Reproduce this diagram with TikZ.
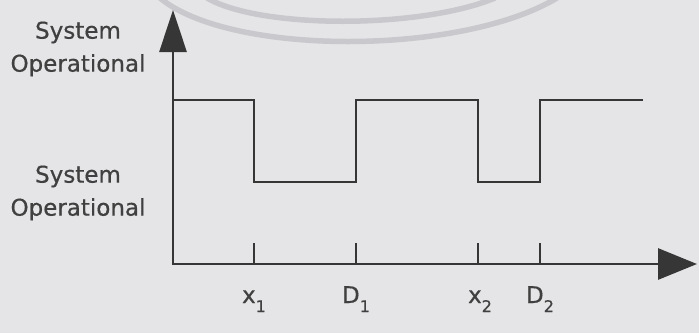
\documentclass[tikz,border=0pt]{standalone}
\usepackage{fontspec}
\setmainfont{DejaVu Sans}[FakeBold=0.6]
\usetikzlibrary{arrows.meta}
\definecolor{bg}{HTML}{E5E5E7}
\definecolor{ln}{HTML}{363636}
\definecolor{txt}{HTML}{404040}
\definecolor{arcc}{HTML}{C9C9CD}
\begin{document}
\begin{tikzpicture}[x=1pt,y=-1pt,
  axisline/.style={draw=ln,line width=2.9pt},
  sigline/.style={draw=ln,line width=2.7pt,line join=miter},
  tickline/.style={draw=ln,line width=2.5pt},
  lbl/.style={text=txt,align=center,inner sep=0pt,font=\fontsize{23}{33}\selectfont},
  ticklbl/.style={text=txt,inner sep=0pt,anchor=base,font=\fontsize{23}{27}\selectfont},
  wm/.style={draw=arcc,line width=5.5pt}]
\fill[bg] (0,0) rectangle (699,333);
\useasboundingbox (0,0) rectangle (699,333);
% watermark arcs
\draw[wm] (160,-2) .. controls (230,56) and (460,56) .. (557,-2);
\draw[wm] (207,-2) .. controls (260,29) and (420,29) .. (495,-2);
% axes
\coordinate (O) at (173,264);
\coordinate (ytip) at (173,10);
\coordinate (xtip) at (697,264);
\draw[axisline,-{Triangle[length=42pt,width=27pt]}] ([yshift=1.4pt]O) -- (ytip);
\draw[axisline,-{Triangle[length=39pt,width=31pt]}] ([xshift=-1.4pt]O) -- (xtip);
% ticks
\foreach \n/\x in {t1/254,t2/356,t3/478,t4/540}{
  \coordinate (\n) at (\x,264);
  \coordinate (\n top) at (\x,243);
  \draw[tickline] (\n) -- (\n top);
}
% signal
\coordinate (s0) at (173,100);
\coordinate (s1) at (254,100);
\coordinate (s2) at (254,182);
\coordinate (s3) at (356,182);
\coordinate (s4) at (356,100);
\coordinate (s5) at (478,100);
\coordinate (s6) at (478,182);
\coordinate (s7) at (540,182);
\coordinate (s8) at (540,100);
\coordinate (s9) at (643,100);
\draw[sigline] (s0) -- (s1) -- (s2) -- (s3) -- (s4) -- (s5) -- (s6) -- (s7) -- (s8) -- (s9);
% labels
\node[lbl] (up) at (78,49) {System\\Operational};
\node[lbl] (down) at (78,193) {System\\Operational};
\node[ticklbl] (x1) at (254,303) {x\raisebox{-9pt}{\fontsize{16}{16}\selectfont 1}};
\node[ticklbl] (d1) at (356,303) {D\raisebox{-9pt}{\fontsize{16}{16}\selectfont 1}};
\node[ticklbl] (x2) at (480,303) {x\raisebox{-9pt}{\fontsize{16}{16}\selectfont 2}};
\node[ticklbl] (d2) at (540,303) {D\raisebox{-9pt}{\fontsize{16}{16}\selectfont 2}};
\end{tikzpicture}
\end{document}
